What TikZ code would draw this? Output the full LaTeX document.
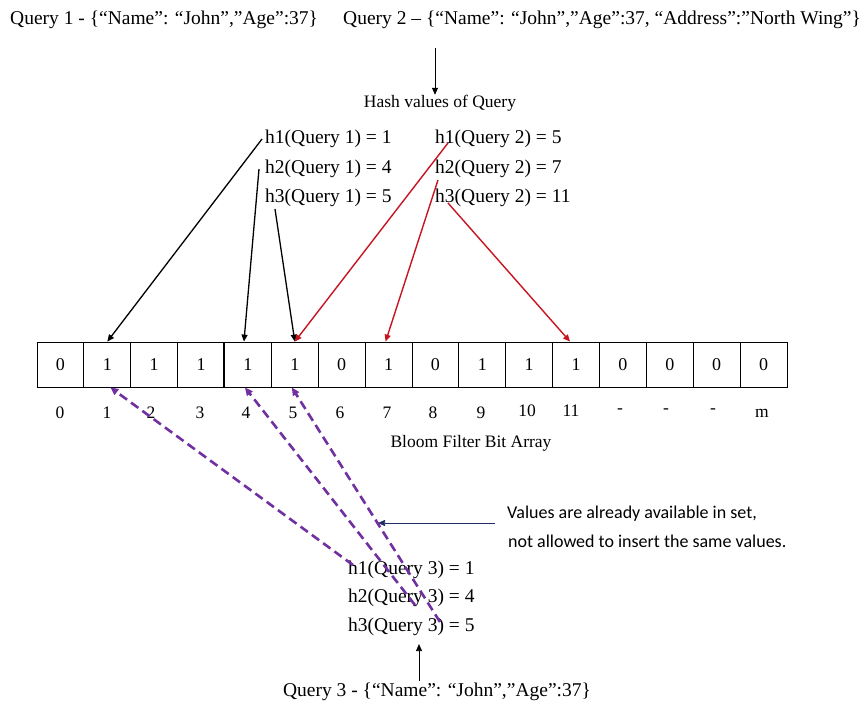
\documentclass[tikz,border=0pt]{standalone}
\usepackage{fontspec}
\usepackage{tikz}
\usepackage{xcolor}
\usetikzlibrary{arrows.meta}
\setmainfont{Liberation Serif}
\newfontfamily\calibri{Carlito}

\definecolor{hashred}{RGB}{200,20,32}
\definecolor{dupviolet}{RGB}{112,48,160}
\definecolor{notenavy}{RGB}{31,46,100}

\tikzset{
  txt/.style={inner sep=0pt,anchor=west,font=\fontsize{19.5}{23}\selectfont},
  lbl/.style={inner sep=0pt,font=\fontsize{17.5}{21}\selectfont},
  cell/.style={draw=black,line width=0.8pt,minimum width=46.875pt,minimum height=45pt,
    inner sep=0pt,font=\fontsize{18}{21}\selectfont},
  thin arrow/.style={-{Triangle[length=7pt,width=6pt]},line width=0.7pt},
  q1 arrow/.style={-{Triangle[length=7pt,width=6pt]},line width=1.3pt,black},
  q2 arrow/.style={-{Triangle[length=7pt,width=6pt]},line width=1.4pt,hashred},
  q3 arrow/.style={-{Triangle[length=8pt,width=7pt]},line width=2.6pt,dupviolet,
    dash pattern=on 9pt off 5pt}
}

\begin{document}
\begin{tikzpicture}[x=1pt,y=-1pt]
    \useasboundingbox (0,0) rectangle (864,709);

    \node[txt] (qa) at (10,20) {Query 1 - \{“Name”: “John”,”Age”:37\}};
    \node[txt] (qb) at (343,20) {Query 2 – \{“Name”: “John”,”Age”:37, “Address”:”North Wing”\}};
    \node[lbl] (hash) at (440,103) {Hash values of Query};

    \node[txt] (q1a) at (265,139) {h1(Query 1) = 1};
    \node[txt] (q1b) at (265,169) {h2(Query 1) = 4};
    \node[txt] (q1c) at (265,198) {h3(Query 1) = 5};
    \node[txt] (q2a) at (435,139) {h1(Query 2) = 5};
    \node[txt] (q2b) at (435,169) {h2(Query 2) = 7};
    \node[txt] (q2c) at (435,198) {h3(Query 2) = 11};

    % bit array
    \node[cell] (c0) at (60.44,364.5) {0};
    \node[cell] (c1) at (107.31,364.5) {1};
    \node[cell] (c2) at (154.19,364.5) {1};
    \node[cell] (c3) at (201.06,364.5) {1};
    \node[cell] (c4) at (247.94,364.5) {1};
    \node[cell] (c5) at (294.81,364.5) {1};
    \node[cell] (c6) at (341.69,364.5) {0};
    \node[cell] (c7) at (388.56,364.5) {1};
    \node[cell] (c8) at (435.44,364.5) {0};
    \node[cell] (c9) at (482.31,364.5) {1};
    \node[cell] (c10) at (529.19,364.5) {1};
    \node[cell] (c11) at (576.06,364.5) {1};
    \node[cell] (c12) at (622.94,364.5) {0};
    \node[cell] (c13) at (669.81,364.5) {0};
    \node[cell] (c14) at (716.69,364.5) {0};
    \node[cell] (c15) at (763.56,364.5) {0};
    \draw[line width=1.8pt] (c4.north west) -- (c4.south west);

    \node[lbl] (i0) at (60,413) {0};
    \node[lbl] (i1) at (107,413) {1};
    \node[lbl] (i2) at (151,413) {2};
    \node[lbl] (i3) at (200,413) {3};
    \node[lbl] (i4) at (246,413) {4};
    \node[lbl] (i5) at (293,413) {5};
    \node[lbl] (i6) at (340,413) {6};
    \node[lbl] (i7) at (387,413) {7};
    \node[lbl] (i8) at (433,413) {8};
    \node[lbl] (i9) at (481,413) {9};
    \node[lbl] (i10) at (527,411) {10};
    \node[lbl] (i11) at (571,411) {11};
    \node[lbl] (i12) at (620,411) {-};
    \node[lbl] (i13) at (666,411) {-};
    \node[lbl] (i14) at (713,411) {-};
    \node[lbl] (i15) at (762,413) {m};
    \node[lbl] (bits) at (471,443) {Bloom Filter Bit Array};

    \node[inner sep=0pt,anchor=west,align=left,font=\calibri\fontsize{18}{29}\selectfont] (note) at (507,527)
      {Values are already available in set,\\ \hspace{1pt}not allowed to insert the same values.};
    \coordinate (hit) at (378,523);

    \node[txt] (r1) at (348,570) {h1(Query 3) = 1};
    \node[txt] (r2) at (348,598) {h2(Query 3) = 4};
    \node[txt] (r3) at (348,627) {h3(Query 3) = 5};
    \node[txt,anchor=center] (qc) at (437,692) {Query 3 - \{“Name”: “John”,”Age”:37\}};

    \path [thin arrow] ([xshift=-5pt,yshift=-19pt]hash.north |- qb.south) edge ([xshift=-5pt]hash.north);
    \path [thin arrow] ([xshift=-18pt,yshift=2pt]qc.north) edge ([xshift=-18pt,yshift=-8pt]qc.north |- r3.south);
    \path [thin arrow,notenavy] ([xshift=-12pt]note.west |- hit) edge (hit);

    \path [q1 arrow] ([xshift=-3pt]q1a.west) edge (c1.north);
    \path [q1 arrow] ([xshift=-6pt]q1b.west) edge ([xshift=-4pt]c4.north);
    \path [q1 arrow] ([xshift=10pt,yshift=-11pt]q1c.west) edge (c5.north);

    \path [q2 arrow] ([xshift=13pt,yshift=-4pt]q2a.west) edge (c5.north);
    \path [q2 arrow] ([xshift=3pt,yshift=-11pt]q2b.west) edge ([xshift=-3pt]c7.north);
    \path [q2 arrow] ([xshift=13pt,yshift=-5pt]q2c.west) edge ([xshift=-6pt]c11.north);

    \path [q3 arrow] ([xshift=5pt,yshift=5pt]r1.west) edge ([xshift=3pt]c1.south);
    \path [q3 arrow] ([xshift=67pt,yshift=-7pt]r2.west) edge ([xshift=-3pt]c4.south);
    \path [q3 arrow] ([xshift=92pt,yshift=5pt]r3.west) edge ([xshift=-3pt]c5.south);
\end{tikzpicture}
\end{document}
